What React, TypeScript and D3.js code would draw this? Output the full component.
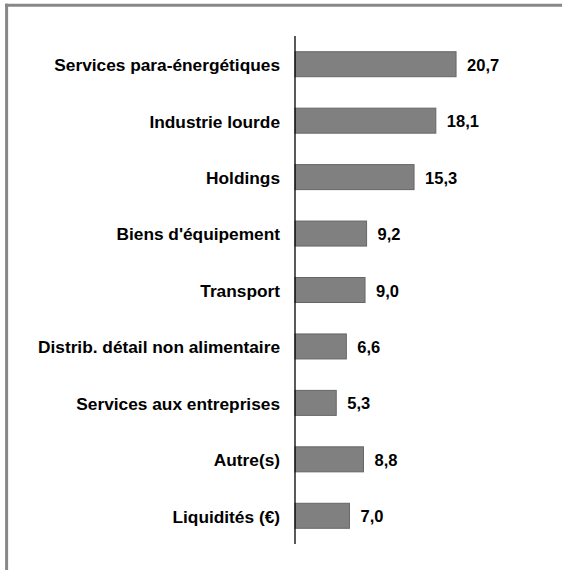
import React from "react";
import * as d3 from "d3";

const categories = [
  "Services para-énergétiques",
  "Industrie lourde",
  "Holdings",
  "Biens d'équipement",
  "Transport",
  "Distrib. détail non alimentaire",
  "Services aux entreprises",
  "Autre(s)",
  "Liquidités (€)",
];
const values = [20.7, 18.1, 15.3, 9.2, 9.0, 6.6, 5.3, 8.8, 7.0];

const W = 562;
const H = 570;
const axisX = 295;
const top = 36;
const bottom = 544;

export default function App() {
  const x = d3.scaleLinear().domain([0, 1]).range([axisX, axisX + 7.78]);
  const y = d3
    .scaleBand<string>()
    .domain(categories)
    .range([top, bottom])
    .paddingInner(0.557)
    .paddingOuter(0.2785);
  const fmt = (v: number) => v.toFixed(1).replace(".", ",");
  const font = "'Liberation Sans', Arial, sans-serif";
  return (
    <div style={{ position: "fixed", left: 0, top: 0 }}>
      <svg width={W} height={H} style={{ display: "block", background: "#fff" }}>
        <line x1={5} y1={5.2} x2={W} y2={5.2} stroke="#888" strokeWidth={3} />
        <line x1={6.6} y1={3.7} x2={6.6} y2={H} stroke="#888" strokeWidth={3} />
        {categories.map((c, i) => {
          const y0 = y(c)!;
          const bw = y.bandwidth();
          const cy = y0 + bw / 2;
          return (
            <g key={c}>
              <rect
                x={x(0)}
                y={y0}
                width={x(values[i]) - x(0)}
                height={bw}
                fill="#808080"
                stroke="#666"
                strokeWidth={1}
              />
              <text
                x={axisX - 15}
                y={cy}
                dy="0.4em"
                textAnchor="end"
                fontFamily={font}
                fontWeight="bold"
                fontSize={17.3}
                fill="#000"
              >
                {c}
              </text>
              <text
                x={x(values[i]) + 11}
                y={cy}
                dy="0.4em"
                textAnchor="start"
                fontFamily={font}
                fontWeight="bold"
                fontSize={16.5}
                fill="#000"
              >
                {fmt(values[i])}
              </text>
            </g>
          );
        })}
        <line x1={axisX} y1={top} x2={axisX} y2={bottom} stroke="#000" strokeWidth={1.3} />
      </svg>
    </div>
  );
}
